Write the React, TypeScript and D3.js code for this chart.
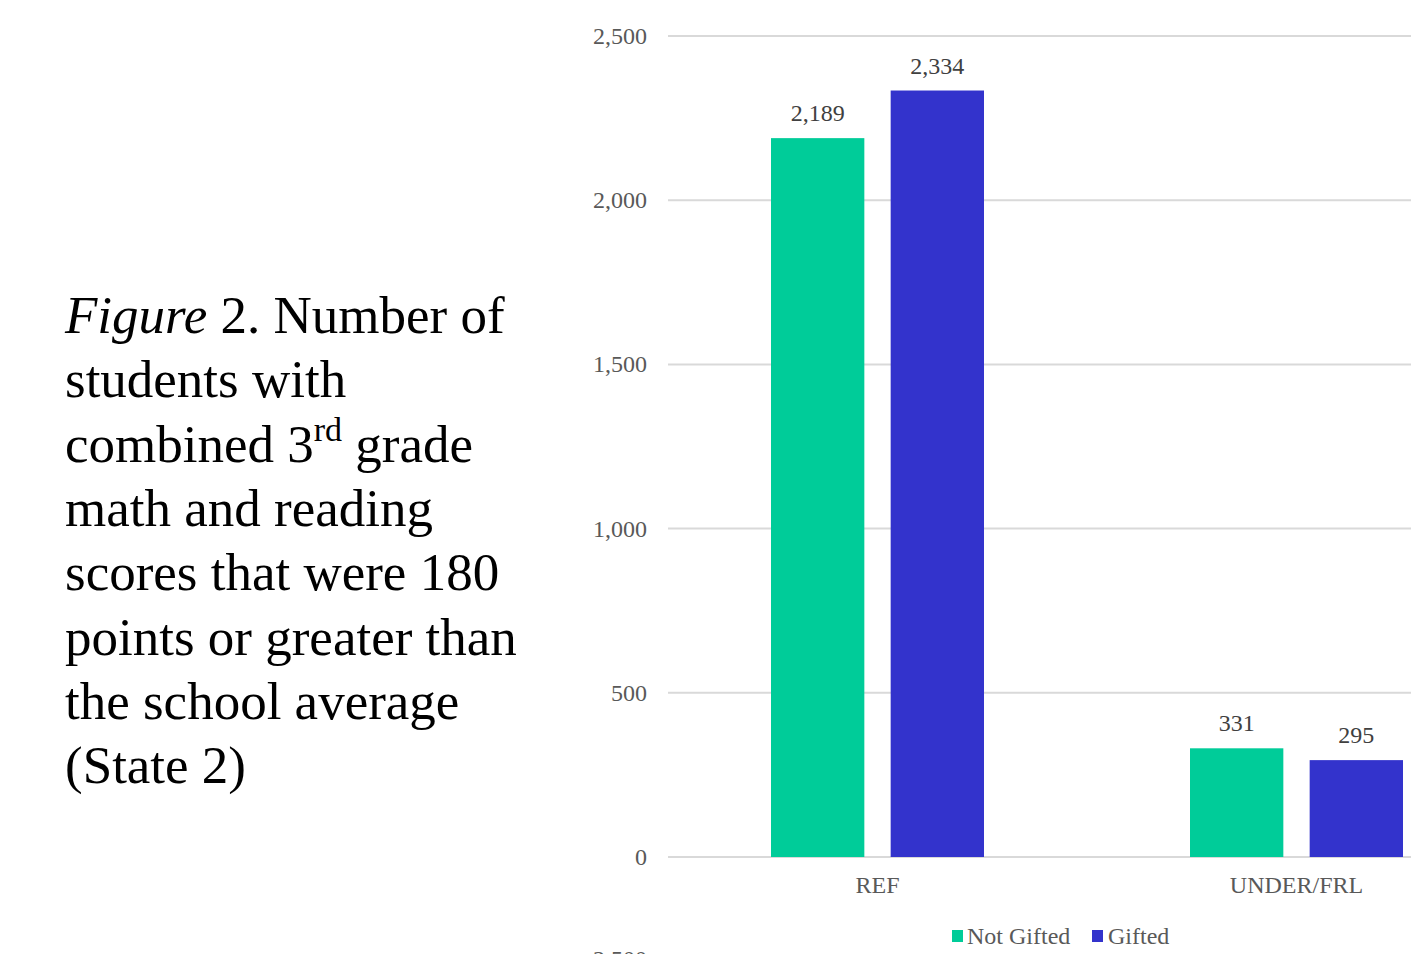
import React from "react";
import * as d3 from "d3";

const categories = ["REF", "UNDER/FRL"];
const seriesNames = ["Not Gifted", "Gifted"];
const notGifted = [2189, 331];
const gifted = [2334, 295];
const yTicks = [0, 500, 1000, 1500, 2000, 2500];
const seriesColors = ["#00CC99", "#3333CC"];

const captionLines: { parts: { t: string; italic?: boolean; sup?: boolean }[] }[] = [
  { parts: [{ t: "Figure", italic: true }, { t: " 2. Number of" }] },
  { parts: [{ t: "students with" }] },
  { parts: [{ t: "combined 3" }, { t: "rd", sup: true }, { t: " grade" }] },
  { parts: [{ t: "math and reading" }] },
  { parts: [{ t: "scores that were 180" }] },
  { parts: [{ t: "points or greater than" }] },
  { parts: [{ t: "the school average" }] },
  { parts: [{ t: "(State 2)" }] },
];

const W = 1411;
const H = 954;
const FONT = "'Liberation Serif', 'Times New Roman', serif";
const serif = { fontFamily: FONT };

export default function App() {
  const plotLeft = 668;
  const y = d3.scaleLinear().domain([0, 2500]).range([857, 36]);
  const x0 = d3.scaleBand<string>().domain(categories).range([plotLeft, plotLeft + 838]).paddingInner(0).paddingOuter(0);
  const x1 = d3.scaleBand<string>().domain(seriesNames).range([0, 213]).paddingInner(0.22);
  const groupOffset = (x0.bandwidth() - 213) / 2;
  const fmt = d3.format(",");
  const values = [notGifted, gifted];

  return (
    <svg width={W} height={H} style={{ position: "fixed", left: 0, top: 0, background: "#fff", fontFamily: FONT }}>
      {/* caption */}
      {captionLines.map((line, i) => (
        <text key={i} x={65} y={333 + i * 64.3} fontSize={53} fill="#000" style={serif}>
          {line.parts.map((p, j) =>
            p.sup ? (
              <tspan key={j} fontSize={34} dy={-21}>{p.t}</tspan>
            ) : (
              <tspan key={j} fontStyle={p.italic ? "italic" : "normal"} dy={j > 0 && line.parts[j - 1].sup ? 21 : 0}>
                {p.t}
              </tspan>
            )
          )}
        </text>
      ))}

      {/* gridlines and y tick labels */}
      {yTicks.map((t) => (
        <g key={t}>
          <line x1={plotLeft} x2={W} y1={y(t)} y2={y(t)} stroke="#d9d9d9" strokeWidth={2} />
          <text x={647} y={y(t) + 8} textAnchor="end" fontSize={24} fill="#595959" style={serif}>
            {fmt(t)}
          </text>
        </g>
      ))}

      {/* bars and value labels */}
      {categories.map((c, ci) => (
        <g key={c} transform={`translate(${(x0(c) as number) + groupOffset},0)`}>
          {seriesNames.map((s, si) => {
            const v = values[si][ci];
            const bx = x1(s) as number;
            return (
              <g key={s}>
                <rect x={bx} y={y(v)} width={x1.bandwidth()} height={y(0) - y(v)} fill={seriesColors[si]} />
                <text x={bx + x1.bandwidth() / 2} y={y(v) - 17} textAnchor="middle" fontSize={24} fill="#404040" style={serif}>
                  {fmt(v)}
                </text>
              </g>
            );
          })}
        </g>
      ))}

      {/* category labels */}
      {categories.map((c) => (
        <text key={c} x={(x0(c) as number) + x0.bandwidth() / 2} y={893} textAnchor="middle" fontSize={24} fill="#595959" style={serif}>
          {c}
        </text>
      ))}

      {/* legend */}
      <g>
        <rect x={952} y={930} width={11} height={12} fill={seriesColors[0]} />
        <text x={967} y={944} fontSize={24} fill="#595959" style={serif}>{seriesNames[0]}</text>
        <rect x={1092} y={930} width={11} height={12} fill={seriesColors[1]} />
        <text x={1108} y={944} fontSize={24} fill="#595959" style={serif}>{seriesNames[1]}</text>
      </g>

      {/* top tick of the next chart, cut by the page edge */}
      <text x={647} y={967} textAnchor="end" fontSize={24} fill="#595959" style={serif}>
        {fmt(2500)}
      </text>
    </svg>
  );
}
